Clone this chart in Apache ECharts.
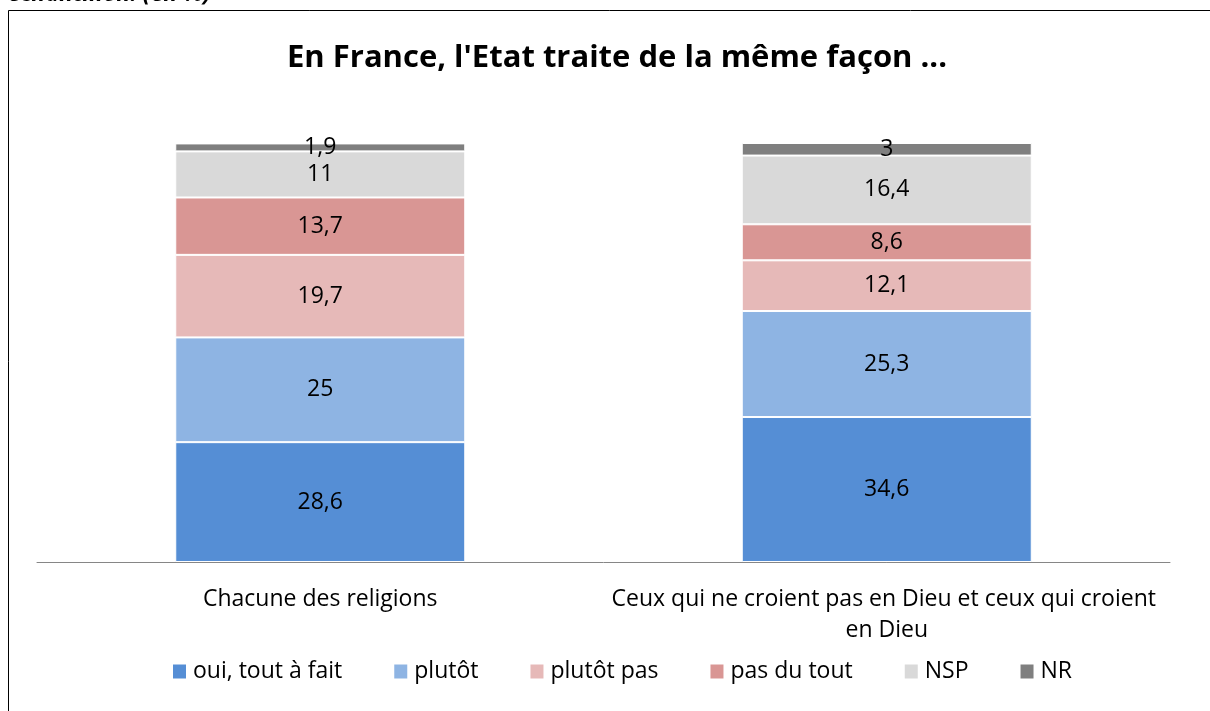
<!DOCTYPE html>
<html><head><meta charset="utf-8">
<script src="https://cdn.jsdelivr.net/npm/echarts@6/dist/echarts.min.js"></script>
<style>html,body{margin:0;padding:0;background:#fff}#c{width:1210px;height:711px}</style>
</head><body><div id="c"></div>
<script>
const categories = ["Chacune des religions", "Ceux qui ne croient pas en Dieu et ceux qui croient en Dieu"];
const seriesNames = ["oui, tout à fait", "plutôt", "plutôt pas", "pas du tout", "NSP", "NR"];
const ouiToutAFait = [28.6, 34.6];
const plutot = [25, 25.3];
const plutotPas = [19.7, 12.1];
const pasDuTout = [13.7, 8.6];
const nsp = [11, 16.4];
const nr = [1.9, 3];
const colors = ["#558ED5", "#8EB4E3", "#E6B9B8", "#D99694", "#D9D9D9", "#7F7F7F"];
const titleText = "En France, l'Etat traite de la même façon ...";
const headerText = "l'échantillon. (en %)";

const values = [ouiToutAFait, plutot, plutotPas, pasDuTout, nsp, nr];
const FONT = "Open Sans";
const FS = 23;
const chart = echarts.init(document.getElementById('c'), null, {renderer: 'canvas'});
chart.setOption({
  animation: false,
  textStyle: {fontFamily: FONT},
  title: {text: titleText, left: 282, top: 38,
    textStyle: {fontFamily: FONT, fontSize: 31, fontWeight: 'bold', color: '#000'}},
  legend: {top: 655, left: 166, itemGap: 50, itemWidth: 15, itemHeight: 16,
    icon: 'rect',
    textStyle: {fontFamily: FONT, fontSize: FS, color: '#000', padding: [0,0,0,1]},
    data: seriesNames},
  grid: {left: 37, right: 40, top: 143, bottom: 149, containLabel: false},
  xAxis: {type: 'category', data: categories,
    axisLine: {lineStyle: {color: '#868686', width: 1}},
    axisTick: {show: false},
    axisLabel: {fontFamily: FONT, fontSize: FS, color: '#000', margin: 22, lineHeight: 31,
      width: 565, overflow: 'break', interval: 0}},
  yAxis: {type: 'value', min: 0, max: 100, show: false, splitLine: {show: false}},
  series: seriesNames.map((n, i) => ({
    name: n, type: 'bar', stack: 'total', barWidth: 290,
    data: values[i],
    itemStyle: {color: colors[i], borderColor: '#fff', borderWidth: 1},
    label: {show: true, position: 'inside', fontFamily: FONT, fontSize: FS, color: '#000',
      formatter: p => String(p.value).replace('.', ',')}
  })),
  graphic: [
    {type: 'rect', shape: {x: 8.5, y: 10.5, width: 1300, height: 800},
      style: {fill: 'none', stroke: '#000', lineWidth: 1}, silent: true, z: -1},
    {type: 'text', left: -5, top: -17,
      style: {text: headerText, font: 'italic bold 23px ' + FONT, fill: '#000'}}
  ]
});
</script></body></html>
